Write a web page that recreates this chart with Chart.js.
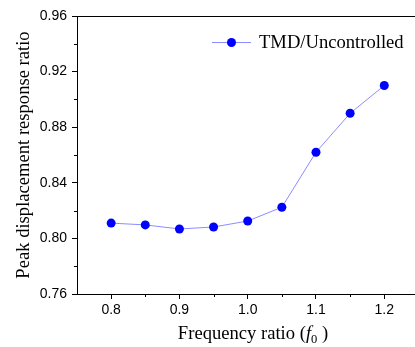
<!DOCTYPE html>
<html>
<head>
<meta charset="utf-8">
<script src="https://cdn.jsdelivr.net/npm/chart.js@4"></script>
<style>
  html, body { margin: 0; padding: 0; background: #fff; overflow: hidden; }
</style>
</head>
<body>
<canvas id="chart-ratio" width="415" height="347"></canvas>
<script>
// data
var freqRatio = [0.8, 0.85, 0.9, 0.95, 1.0, 1.05, 1.1, 1.15, 1.2];
var responseRatio = [0.811, 0.8097, 0.8068, 0.8082, 0.8125, 0.8224, 0.862, 0.890, 0.910];
var xTickValues = [0.8, 0.85, 0.9, 0.95, 1.0, 1.05, 1.1, 1.15, 1.2];
var yTickValues = [0.76, 0.78, 0.80, 0.82, 0.84, 0.86, 0.88, 0.90, 0.92, 0.94, 0.96];
var seriesLabel = "TMD/Uncontrolled";
var yTitle = "Peak displacement response ratio";

var serif = "'Liberation Serif', 'Times New Roman', serif";
var sans = "'Liberation Sans', Arial, sans-serif";

var isMajorX = function (v) { return Math.round(v * 100) % 10 === 0; };
var isMajorY = function (v) { return Math.round(v * 100) % 4 === 0; };
var majorOnly = function (ctx) {
  return ctx.tick && ctx.tick.label === "" ? "rgba(0,0,0,0)" : "#000";
};

//============ extra drawing: top frame, short minor ticks, legend inside plot, x title with italic f0
var extras = {
  id: "extras",
  afterDraw: function (chart) {
    var c = chart.ctx;
    var a = chart.chartArea;
    var sx = chart.scales.x;
    var sy = chart.scales.y;
    c.save();
    c.strokeStyle = "#000";
    c.lineWidth = 1;
    c.beginPath();
    c.moveTo(a.left, a.top + 0.5);
    c.lineTo(a.right, a.top + 0.5);
    // minor ticks
    xTickValues.forEach(function (v) {
      if (isMajorX(v)) return;
      var px = Math.round(sx.getPixelForValue(v)) + 0.5;
      c.moveTo(px, a.bottom);
      c.lineTo(px, a.bottom + 3);
    });
    yTickValues.forEach(function (v) {
      if (isMajorY(v)) return;
      var py = Math.round(sy.getPixelForValue(v)) + 0.5;
      c.moveTo(a.left, py);
      c.lineTo(a.left - 3, py);
    });
    c.stroke();

    // legend
    var ds = chart.data.datasets[0];
    var ly = 42;
    c.strokeStyle = ds.borderColor;
    c.beginPath();
    c.moveTo(212, ly + 0.5);
    c.lineTo(251, ly + 0.5);
    c.stroke();
    c.fillStyle = ds.pointBackgroundColor;
    c.beginPath();
    c.arc(231.5, ly + 0.5, 4.5, 0, Math.PI * 2);
    c.fill();
    c.fillStyle = "#000";
    c.font = "18.6px " + serif;
    c.textBaseline = "alphabetic";
    c.textAlign = "left";
    c.fillText(ds.label, 259, ly + 6);

    // x axis title: Frequency ratio (f0)
    var parts = [
      { t: "Frequency ratio (", f: "18.6px " + serif, dy: 0 },
      { t: "f", f: "italic 18.6px " + serif, dy: 0 },
      { t: "0", f: "12.5px " + serif, dy: 4 },
      { t: " )", f: "18.6px " + serif, dy: 0 }
    ];
    var total = 0;
    parts.forEach(function (p) { c.font = p.f; p.w = c.measureText(p.t).width; total += p.w; });
    var x = 253 - total / 2;
    var base = 339;
    parts.forEach(function (p) {
      c.font = p.f;
      c.fillText(p.t, x, base + p.dy);
      x += p.w;
    });
    c.restore();
  }
};

var ctx = document.getElementById("chart-ratio").getContext("2d");
var chartRatio = new Chart(ctx, {
  type: "line",
  data: {
    datasets: [
      {
        label: seriesLabel,
        data: freqRatio.map(function (f, i) { return { x: f, y: responseRatio[i] }; }),
        borderColor: "#8c8cff",
        borderWidth: 1,
        pointRadius: 4.5,
        pointBackgroundColor: "#0000ff",
        pointBorderColor: "#0000ff",
        pointBorderWidth: 0,
        tension: 0
      }
    ]
  },
  options: {
    responsive: false,
    animation: false,
    devicePixelRatio: 1,
    layout: { autoPadding: false, padding: { top: 16, right: 0, left: 0, bottom: 0 } },
    plugins: {
      legend: { display: false },
      tooltip: { enabled: false }
    },
    scales: {
      x: {
        type: "linear",
        min: 0.75,
        max: 1.245,
        afterBuildTicks: function (s) {
          s.ticks = xTickValues.map(function (v) { return { value: v }; });
        },
        afterFit: function (s) {
          s.height = 53;
          s.paddingLeft = 0;
          s.paddingRight = 0;
        },
        grid: {
          drawOnChartArea: false,
          drawTicks: true,
          tickLength: 5,
          color: "#000",
          tickColor: majorOnly
        },
        border: { display: true, color: "#000", width: 1 },
        ticks: {
          color: "#000",
          padding: 3,
          maxRotation: 0,
          autoSkip: false,
          font: { family: sans, size: 14 },
          callback: function (v) {
            return isMajorX(v) ? v.toFixed(1) : "";
          }
        }
      },
      y: {
        min: 0.76,
        max: 0.96,
        afterBuildTicks: function (s) {
          s.ticks = yTickValues.map(function (v) { return { value: v }; });
        },
        afterFit: function (s) {
          s.width = 77;
          s.paddingTop = 0;
          s.paddingBottom = 0;
        },
        grid: {
          drawOnChartArea: false,
          drawTicks: true,
          tickLength: 5,
          color: "#000",
          tickColor: majorOnly
        },
        border: { display: true, color: "#000", width: 1 },
        title: {
          display: true,
          text: yTitle,
          color: "#000",
          font: { family: serif, size: 18.6 },
          padding: { top: 13, bottom: 0 }
        },
        ticks: {
          color: "#000",
          padding: 5,
          autoSkip: false,
          font: { family: sans, size: 14 },
          callback: function (v) {
            return isMajorY(v) ? v.toFixed(2) : "";
          }
        }
      }
    }
  },
  plugins: [extras]
});
</script>
</body>
</html>
